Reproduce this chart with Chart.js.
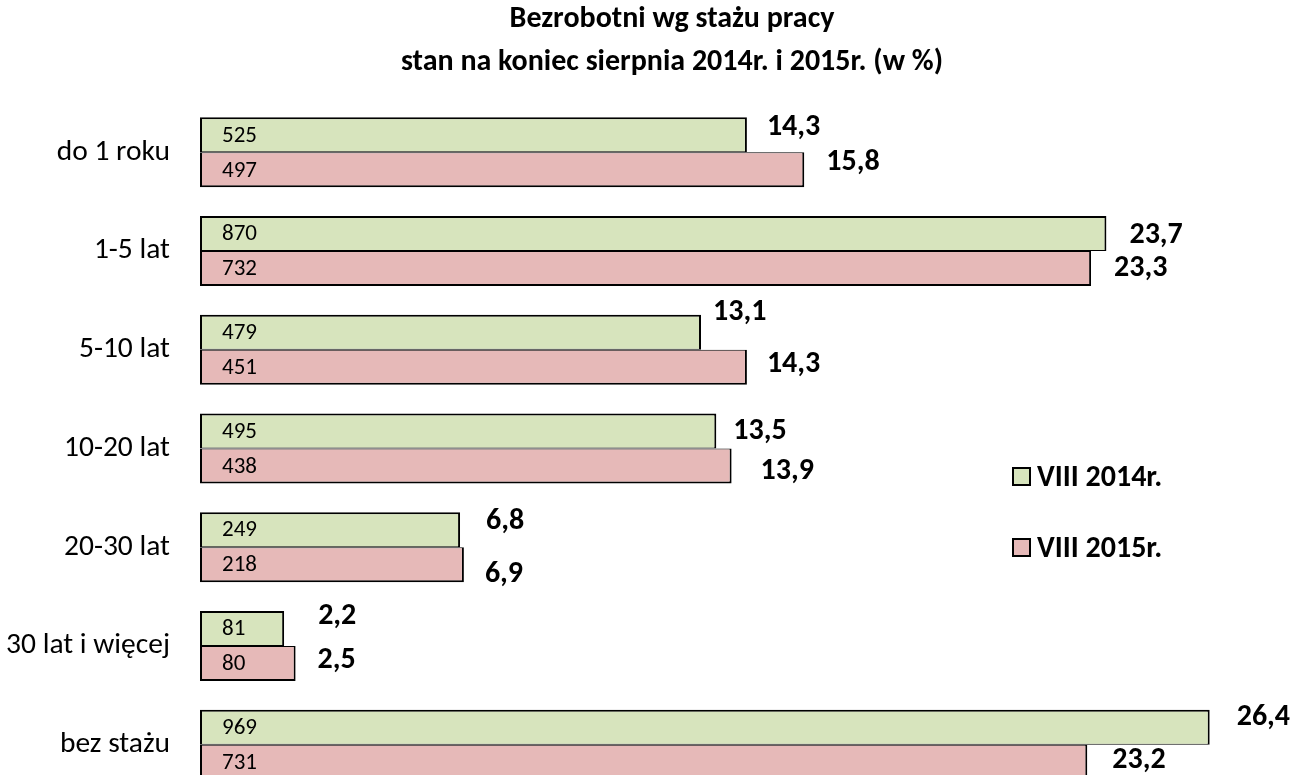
<!DOCTYPE html>
<html>
<head>
<meta charset="utf-8">
<script src="https://cdn.jsdelivr.net/npm/chart.js@4/dist/chart.umd.min.js"></script>
<style>
html,body{margin:0;padding:0;background:#fff;overflow:hidden;}
#wrap{position:relative;width:1290px;height:800px;}
</style>
</head>
<body>
<div id="wrap"><canvas id="c"></canvas></div>
<script>
const categories = ['do 1 roku', '1-5 lat', '5-10 lat', '10-20 lat', '20-30 lat', '30 lat i więcej', 'bez stażu'];
const seriesNames = ['VIII 2014r.', 'VIII 2015r.'];
const pct2014 = [14.3, 23.7, 13.1, 13.5, 6.8, 2.2, 26.4];
const pct2015 = [15.8, 23.3, 14.3, 13.9, 6.9, 2.5, 23.2];
const count2014 = [525, 870, 479, 495, 249, 81, 969];
const count2015 = [497, 732, 451, 438, 218, 80, 731];
const titleLines = ['Bezrobotni wg stażu pracy', 'stan na koniec sierpnia 2014r. i 2015r. (w %)'];

// label nudges (pixels, relative to bar end / bar centre) as placed in the original
const nudge2014 = [[20,-7],[23,2],[12,-20],[17,0],[26,-8],[34,-12],[27,-10]];
const nudge2015 = [[22,-7],[23,0],[20,-3],[29,6],[21,10],[22,-3],[25,-2]];

const FONT = 'Carlito, Calibri, Lato, sans-serif';
const fmt = v => v.toFixed(1).replace('.', ',');

const labelPlugin = {
  id: 'labels',
  afterDatasetsDraw(chart) {
    const ctx = chart.ctx;
    const counts = [count2014, count2015];
    const nudges = [nudge2014, nudge2015];
    ctx.save();
    // title (centred slightly right of the canvas centre, as in the original)
    ctx.fillStyle = '#000';
    ctx.font = 'bold 30px ' + FONT;
    ctx.textAlign = 'center';
    ctx.textBaseline = 'middle';
    titleLines.forEach((t, i) => ctx.fillText(t, chart.width / 2 + 27, 19 + i * 43));

    chart.data.datasets.forEach((ds, di) => {
      const meta = chart.getDatasetMeta(di);
      meta.data.forEach((bar, i) => {
        const base = bar.base, end = bar.x, y = bar.y;
        ctx.fillStyle = '#000';
        ctx.textBaseline = 'middle';
        ctx.textAlign = 'left';
        ctx.font = '23px ' + FONT;
        ctx.fillText(String(counts[di][i]), base + 22, y + 1);
        ctx.font = 'bold 30px ' + FONT;
        const n = nudges[di][i];
        ctx.fillText(fmt(ds.data[i]), end + n[0], y + n[1]);
      });
    });
    // legend
    const lx = chart.chartArea.right - 277;
    const ly = [468, 539];
    chart.data.datasets.forEach((ds, di) => {
      ctx.fillStyle = ds.backgroundColor;
      ctx.fillRect(lx, ly[di], 17, 17);
      ctx.lineWidth = 2;
      ctx.strokeStyle = '#000';
      ctx.strokeRect(lx, ly[di], 17, 17);
      ctx.fillStyle = '#000';
      ctx.font = 'bold 30px ' + FONT;
      ctx.textAlign = 'left';
      ctx.textBaseline = 'middle';
      ctx.fillText(ds.label, lx + 24, ly[di] + 10);
    });
    ctx.restore();
  }
};

new Chart(document.getElementById('c'), {
  type: 'bar',
  data: {
    labels: categories,
    datasets: [
      { label: seriesNames[0], data: pct2014, backgroundColor: '#D7E4BD', borderColor: '#000',
        borderWidth: {top: 2, right: 2, bottom: 1, left: 2}, borderSkipped: false,
        categoryPercentage: 0.709, barPercentage: 1.0 },
      { label: seriesNames[1], data: pct2015, backgroundColor: '#E6B9B8', borderColor: '#000',
        borderWidth: {top: 1, right: 2, bottom: 2, left: 2}, borderSkipped: false,
        categoryPercentage: 0.709, barPercentage: 1.0 }
    ]
  },
  options: {
    indexAxis: 'y',
    responsive: true,
    maintainAspectRatio: false,
    animation: false,
    layout: { padding: { top: 103, right: 0, bottom: 6, left: 0 } },
    plugins: {
      legend: { display: false },
      tooltip: { enabled: false },
      title: { display: false }
    },
    scales: {
      x: { display: false, min: 0, max: 28.5 },
      y: {
        grid: { display: false },
        border: { display: false },
        ticks: { color: '#000', font: { family: FONT, size: 29.5 }, padding: 22 },
        afterFit(scale) {
          scale.width = 200;
          scale.paddingTop = 0;
          scale.paddingBottom = 0;
        }
      }
    }
  },
  plugins: [labelPlugin]
});
</script>
</body>
</html>
